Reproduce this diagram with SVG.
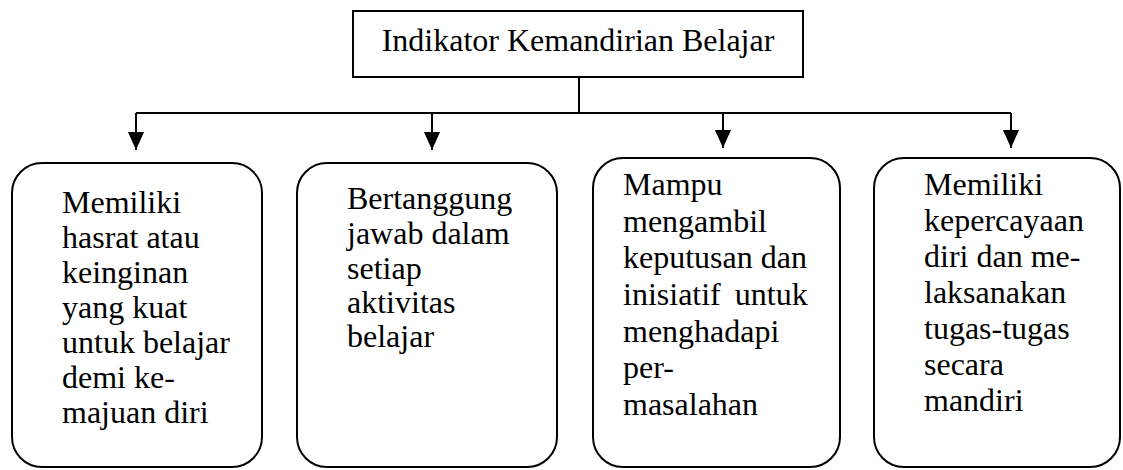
<svg xmlns="http://www.w3.org/2000/svg" width="1123" height="470" viewBox="0 0 1123 470">
<style>
.box{fill:#fff;stroke:#000;stroke-width:2}
.t{font-family:"Liberation Serif","Times New Roman",serif;font-size:32px;fill:#000}
.ln{fill:none;stroke:#000;stroke-width:2}
</style>
<defs>
<marker id="ah" viewBox="0 0 10 10" refX="10" refY="5" markerWidth="7.5" markerHeight="7.5" markerUnits="userSpaceOnUse" orient="auto">
<path d="M0,0 L10,5 L0,10 Z" fill="#000"/>
</marker>
<marker id="arr" viewBox="0 0 16 18" refX="18" refY="8" markerWidth="16" markerHeight="18" markerUnits="userSpaceOnUse" orient="auto">
<path d="M0,0 L18,8 L0,16 Z" fill="#000"/>
</marker>
</defs>
<rect width="1123" height="470" fill="#fff"/>
<g id="connectors">
<path class="ln" d="M579,77 V113"/>
<path class="ln" d="M136,113 H1011"/>
<path class="ln" d="M136,113 V150" marker-end="url(#arr)"/>
<path class="ln" d="M432,113 V150" marker-end="url(#arr)"/>
<path class="ln" d="M723,113 V148" marker-end="url(#arr)"/>
<path class="ln" d="M1011,113 V148" marker-end="url(#arr)"/>
</g>
<g id="title">
<rect class="box" x="353" y="11" width="450" height="66"/>
<text class="t" x="578" y="51" text-anchor="middle">Indikator Kemandirian Belajar</text>
</g>
<g id="node1">
<rect class="box" x="12" y="163" width="250" height="304" rx="30"/>
<text class="t" x="62" y="213">Memiliki</text>
<text class="t" x="62" y="248">hasrat atau</text>
<text class="t" x="62" y="283">keinginan</text>
<text class="t" x="62" y="318">yang kuat</text>
<text class="t" x="62" y="353">untuk belajar</text>
<text class="t" x="62" y="388">demi ke-</text>
<text class="t" x="62" y="423">majuan diri</text>
</g>
<g id="node2">
<rect class="box" x="297" y="163" width="260" height="304" rx="30"/>
<text class="t" x="347" y="209">Bertanggung</text>
<text class="t" x="347" y="244">jawab dalam</text>
<text class="t" x="347" y="279">setiap</text>
<text class="t" x="347" y="313">aktivitas</text>
<text class="t" x="347" y="347">belajar</text>
</g>
<g id="node3">
<rect class="box" x="593" y="158" width="247" height="309" rx="30"/>
<text class="t" x="623" y="195">Mampu</text>
<text class="t" x="623" y="232">mengambil</text>
<text class="t" x="623" y="268">keputusan dan</text>
<text class="t" x="623" y="305" word-spacing="6">inisiatif untuk</text>
<text class="t" x="623" y="342">menghadapi</text>
<text class="t" x="623" y="378">per-</text>
<text class="t" x="623" y="415">masalahan</text>
</g>
<g id="node4">
<rect class="box" x="874" y="158" width="246" height="309" rx="30"/>
<text class="t" x="924" y="195">Memiliki</text>
<text class="t" x="924" y="231">kepercayaan</text>
<text class="t" x="924" y="267">diri dan me-</text>
<text class="t" x="924" y="303">laksanakan</text>
<text class="t" x="924" y="339">tugas-tugas</text>
<text class="t" x="924" y="375">secara</text>
<text class="t" x="924" y="411">mandiri</text>
</g>
</svg>
